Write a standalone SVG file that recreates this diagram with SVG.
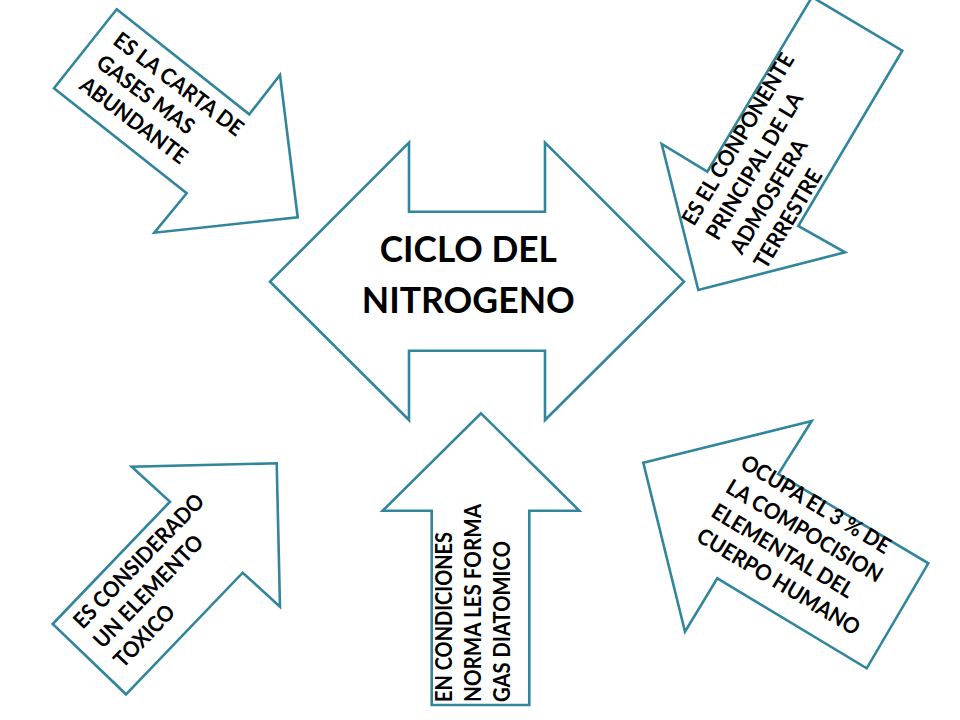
<svg xmlns="http://www.w3.org/2000/svg" width="960" height="720" viewBox="0 0 960 720">
<style>
.shape{fill:#ffffff;stroke:#31859C;stroke-width:2.6;stroke-linejoin:miter}
.lbl{font-family:"Lato","Liberation Sans",sans-serif;font-weight:bold;font-size:22px;fill:#000000}
.title{font-family:"Lato","Liberation Sans",sans-serif;font-weight:bold;font-size:37px;fill:#000000;text-anchor:middle}
</style>
<rect x="0" y="0" width="960" height="720" fill="#ffffff"/>
<g id="connectors"/>
<g id="node-center">
<polygon class="shape" points="270,281.7 409,142.7 409,211.7 545,211.7 545,142.7 684,281.7 545,420 545,350.7 409,350.7 409,420"/>
<text class="title" x="468.3" y="261.7" textLength="177" lengthAdjust="spacingAndGlyphs">CICLO DEL</text>
<text class="title" x="468.3" y="312.7" textLength="213" lengthAdjust="spacingAndGlyphs">NITROGENO</text>
</g>
<g id="node-top-left">
<polygon class="shape" points="116.7,9.3 249.3,114.3 280,75 297.7,217.3 154.3,232.7 186.7,193.3 54,88.3"/>
<g transform="translate(111.7,43.3) rotate(37)">
<text class="lbl" x="0" y="0" textLength="156" lengthAdjust="spacingAndGlyphs">ES LA CARTA DE</text>
<text class="lbl" x="0" y="28" textLength="116" lengthAdjust="spacingAndGlyphs">GASES MAS</text>
<text class="lbl" x="0" y="56" textLength="128" lengthAdjust="spacingAndGlyphs">ABUNDANTE</text>
</g>
</g>
<g id="node-top-right">
<polygon class="shape" points="812,-3 902.3,50.7 798.3,226 845,252.3 698.3,290 661.7,144 707.3,171.7"/>
<g transform="translate(694,227) rotate(-59)">
<text class="lbl" x="0" y="0" textLength="196" lengthAdjust="spacingAndGlyphs">ES EL CONPONENTE</text>
<text class="lbl" x="0" y="28" textLength="167" lengthAdjust="spacingAndGlyphs">PRINCIPAL DE LA</text>
<text class="lbl" x="0" y="56" textLength="129" lengthAdjust="spacingAndGlyphs">ADMOSFERA</text>
<text class="lbl" x="0" y="84" textLength="111" lengthAdjust="spacingAndGlyphs">TERRESTRE</text>
</g>
</g>
<g id="node-bottom-left">
<polygon class="shape" points="52.7,624 170,501.7 131.7,466.7 276.7,463.3 280,606.7 242.7,572.7 126,694.3"/>
<g transform="translate(82.7,630) rotate(-46)">
<text class="lbl" x="0" y="0" textLength="177" lengthAdjust="spacingAndGlyphs">ES CONSIDERADO</text>
<text class="lbl" x="0" y="28" textLength="147" lengthAdjust="spacingAndGlyphs">UN ELEMENTO</text>
<text class="lbl" x="0" y="56" textLength="77" lengthAdjust="spacingAndGlyphs">TOXICO</text>
</g>
</g>
<g id="node-bottom-center">
<polygon class="shape" points="481,413.3 579.3,510.7 529.3,510.7 529.3,705 431.7,705 431.7,510.7 382.7,510.7"/>
<g transform="translate(451.7,702) rotate(-90)">
<text class="lbl" x="0" y="0" textLength="170" lengthAdjust="spacingAndGlyphs">EN CONDICIONES</text>
<text class="lbl" x="0" y="29.5" textLength="198" lengthAdjust="spacingAndGlyphs">NORMA LES FORMA</text>
<text class="lbl" x="0" y="58.5" textLength="161" lengthAdjust="spacingAndGlyphs">GAS DIATOMICO</text>
</g>
</g>
<g id="node-bottom-right">
<polygon class="shape" points="643.3,462.7 811.7,421 778.3,474 928.3,563.3 866.7,668.3 717.3,578.3 685,631.7"/>
<g transform="translate(739,467) rotate(31)">
<text class="lbl" x="0" y="0" textLength="170" lengthAdjust="spacingAndGlyphs">OCUPA EL 3 % DE</text>
<text class="lbl" x="0" y="28.5" textLength="178" lengthAdjust="spacingAndGlyphs">LA COMPOCISION</text>
<text class="lbl" x="0" y="57" textLength="161" lengthAdjust="spacingAndGlyphs">ELEMENTAL DEL</text>
<text class="lbl" x="0" y="85.5" textLength="186" lengthAdjust="spacingAndGlyphs">CUERPO HUMANO</text>
</g>
</g>
</svg>
